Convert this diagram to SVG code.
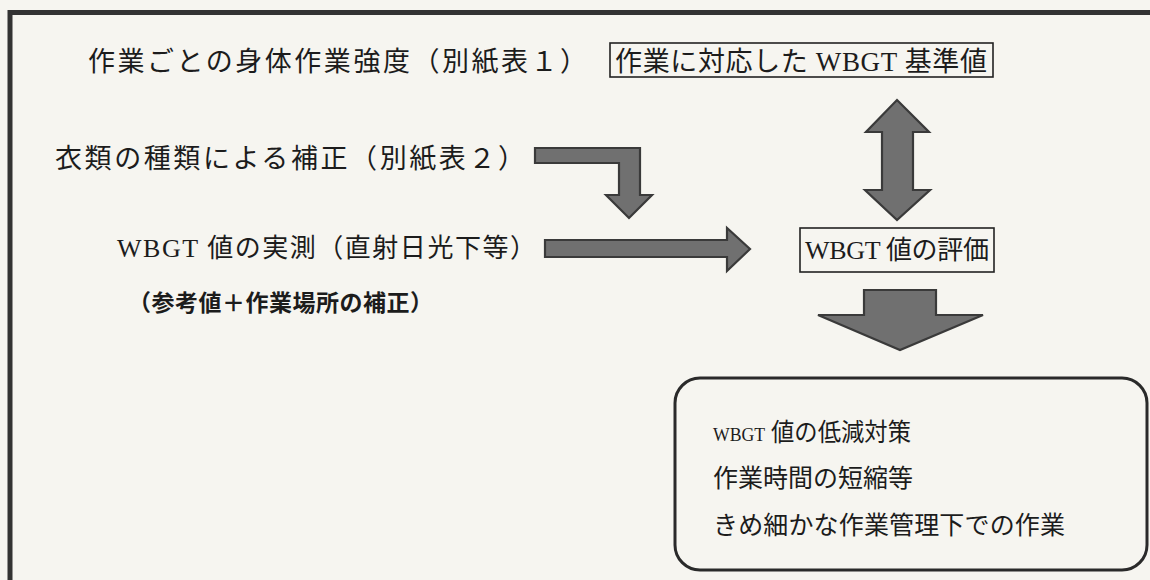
<svg xmlns="http://www.w3.org/2000/svg" width="1150" height="580" viewBox="0 0 1150 580">
<defs>
<style>
.m{font-family:"Liberation Serif","Noto Sans CJK JP",serif;fill:#1c1c1c;}
.g{font-family:"Noto Sans CJK JP",sans-serif;font-weight:bold;fill:#1c1c1c;}
.box{fill:none;stroke:#222;stroke-width:1.6;}
.arr{fill:#707070;stroke:#3a3a3a;stroke-width:2.2;stroke-linejoin:miter;}
</style>
</defs>
<rect x="0" y="0" width="1150" height="580" fill="#f6f5f0"/>
<rect x="10" y="12.5" width="1200" height="700" fill="none" stroke="#333" stroke-width="5"/>
<g id="n1"><text class="m" x="88" y="71" font-size="27" textLength="499">作業ごとの身体作業強度（別紙表１）</text></g>
<g id="n2"><rect class="box" x="610" y="43" width="383" height="34"/><text class="m" x="615" y="71" font-size="27" textLength="372">作業に対応した WBGT 基準値</text></g>
<g id="n3"><text class="m" x="55" y="168" font-size="27" textLength="470">衣類の種類による補正（別紙表２）</text></g>
<g id="n4"><text class="m" x="117" y="257" font-size="26" textLength="419">WBGT 値の実測（直射日光下等）</text><text class="g" x="128" y="311" font-size="23" textLength="305">（参考値＋作業場所の補正）</text></g>
<g id="n5"><rect class="box" x="800" y="228" width="194" height="44"/><text class="m" x="805" y="259" font-size="26" textLength="184">WBGT 値の評価</text></g>
<g id="n6"><rect x="675" y="378" width="472" height="192" rx="25" fill="none" stroke="#2a2a2a" stroke-width="3"/>
<text class="m" x="713" y="441" font-size="25" textLength="198" lengthAdjust="spacingAndGlyphs"><tspan font-size="19">WBGT</tspan> 値の低減対策</text>
<text class="m" x="713" y="487" font-size="25" textLength="200">作業時間の短縮等</text>
<text class="m" x="713" y="534" font-size="25" textLength="352">きめ細かな作業管理下での作業</text></g>
<g id="connectors">
<path class="arr" d="M535,148 H640 V195 H652 L629,218 L606,195 H619 V163 H535 Z"/>
<path class="arr" d="M545,240 H727 V228 L750,249 L727,271 V257 H545 Z"/>
<path class="arr" d="M897,100 L929,132 H913 V190 H930 L897,220 L865,190 H882 V132 H866 Z"/>
<path class="arr" d="M864,290 H936 V315 H983 L900,350 L818,315 H864 Z"/>
</g>
</svg>
